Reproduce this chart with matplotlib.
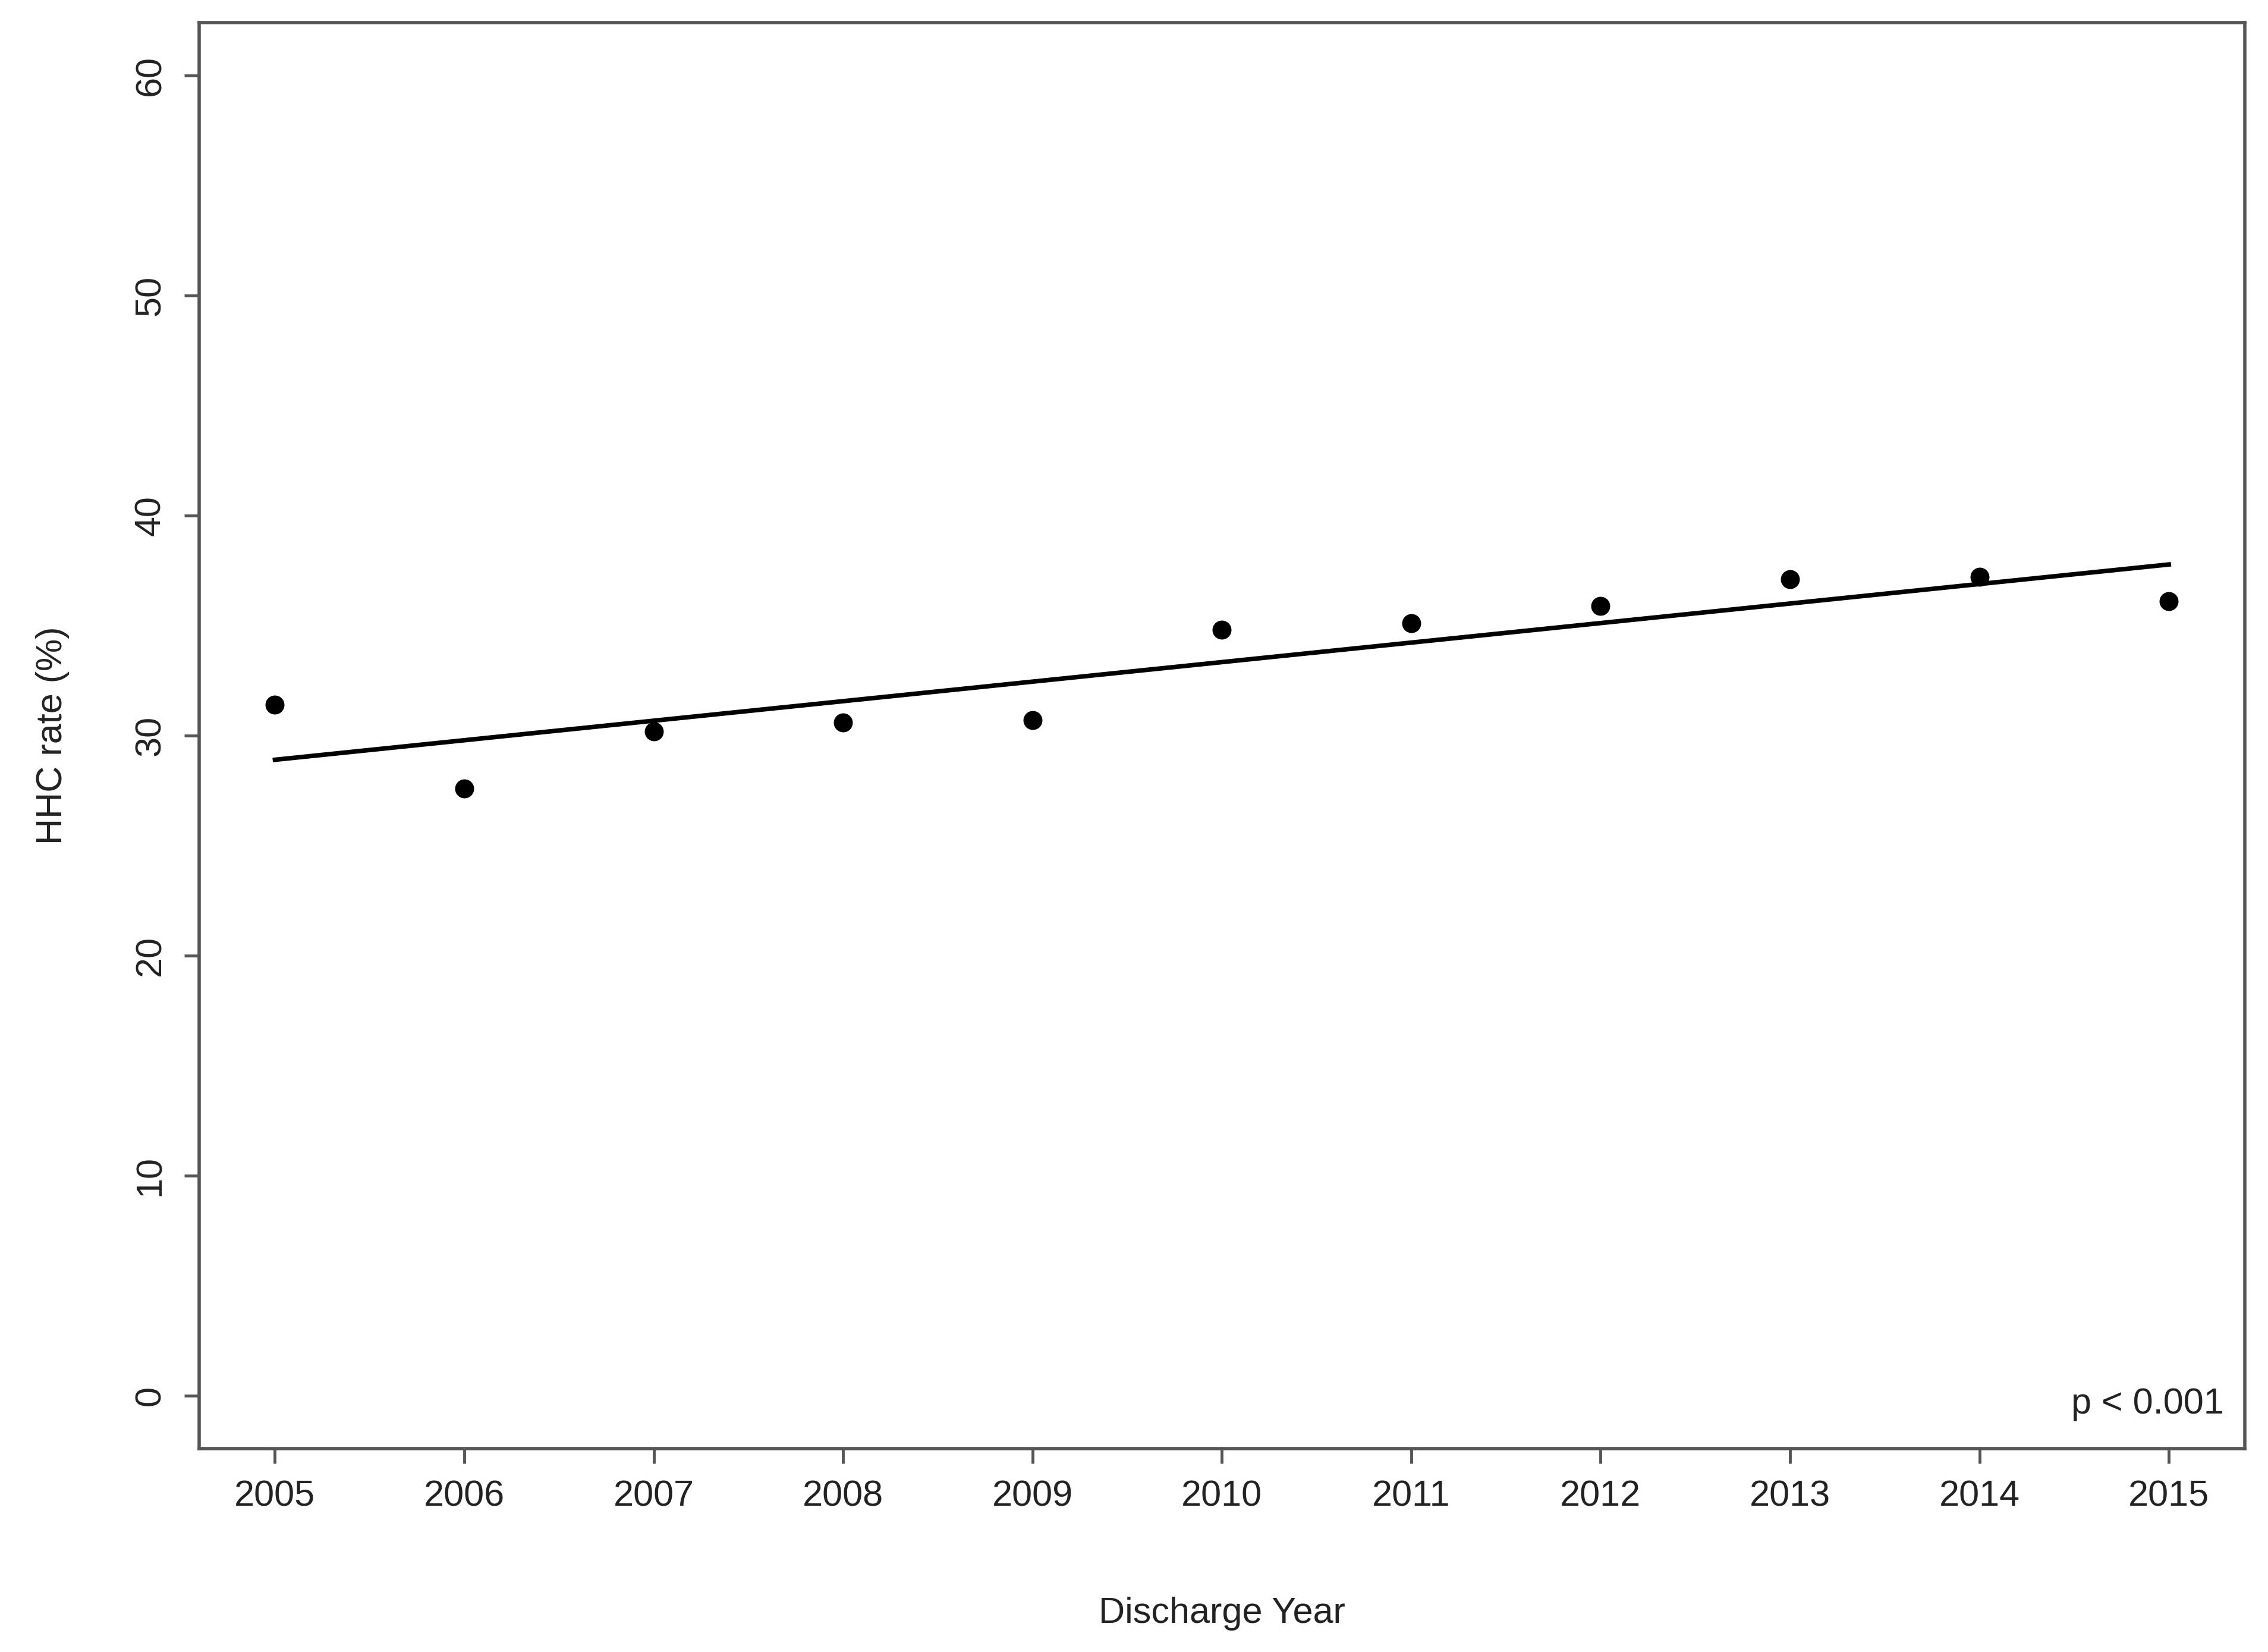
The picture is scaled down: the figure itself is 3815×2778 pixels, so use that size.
import numpy as np
import matplotlib
matplotlib.use("Agg")
import matplotlib.pyplot as plt

years = [2005, 2006, 2007, 2008, 2009, 2010, 2011, 2012, 2013, 2014, 2015]
hhc_rate = [31.4, 27.6, 30.2, 30.6, 30.7, 34.8, 35.1, 35.9, 37.1, 37.2, 36.1]
y_ticks = [0, 10, 20, 30, 40, 50, 60]
x_label = "Discharge Year"
y_label = "HHC rate (%)"
p_text = "p < 0.001"

plt.rcParams['font.family'] = ['Liberation Sans', 'DejaVu Sans']

fig = plt.figure(figsize=(38.16, 27.78), dpi=100)
ax = fig.add_axes([0.0878, 0.1231, 0.9894 - 0.0878, 0.9864 - 0.1231])

ax.plot(years, hhc_rate, 'o', color='black', markersize=22, zorder=3)
coef = np.polyfit(years, hhc_rate, 1)
fit = np.polyval(coef, years)
ax.plot([years[0], years[-1]], [fit[0], fit[-1]], color='black', linewidth=5.5, zorder=2)

ax.set_xlim(2004.6, 2015.4)
ax.set_ylim(-2.4, 62.4)
ax.set_xticks(years)
ax.set_xticklabels([str(y) for y in years])
ax.set_yticks(y_ticks)
ax.set_yticklabels([str(v) for v in y_ticks], rotation=90, va='center')

for s in ax.spines.values():
    s.set_color('#555555')
    s.set_linewidth(4)
ax.tick_params(axis='both', direction='out', length=18, width=3.5, color='#555555',
               labelsize=44, labelcolor='#222222', pad=20)

ax.set_xlabel(x_label, fontsize=44, color='#222222', labelpad=100)
ax.set_ylabel(y_label, fontsize=44, color='#222222', labelpad=78)

ax.text(0.99, 0.031, p_text, transform=ax.transAxes, ha='right', va='center',
        fontsize=44, color='#222222')

fig.savefig("out.png", dpi=100, facecolor='white')
